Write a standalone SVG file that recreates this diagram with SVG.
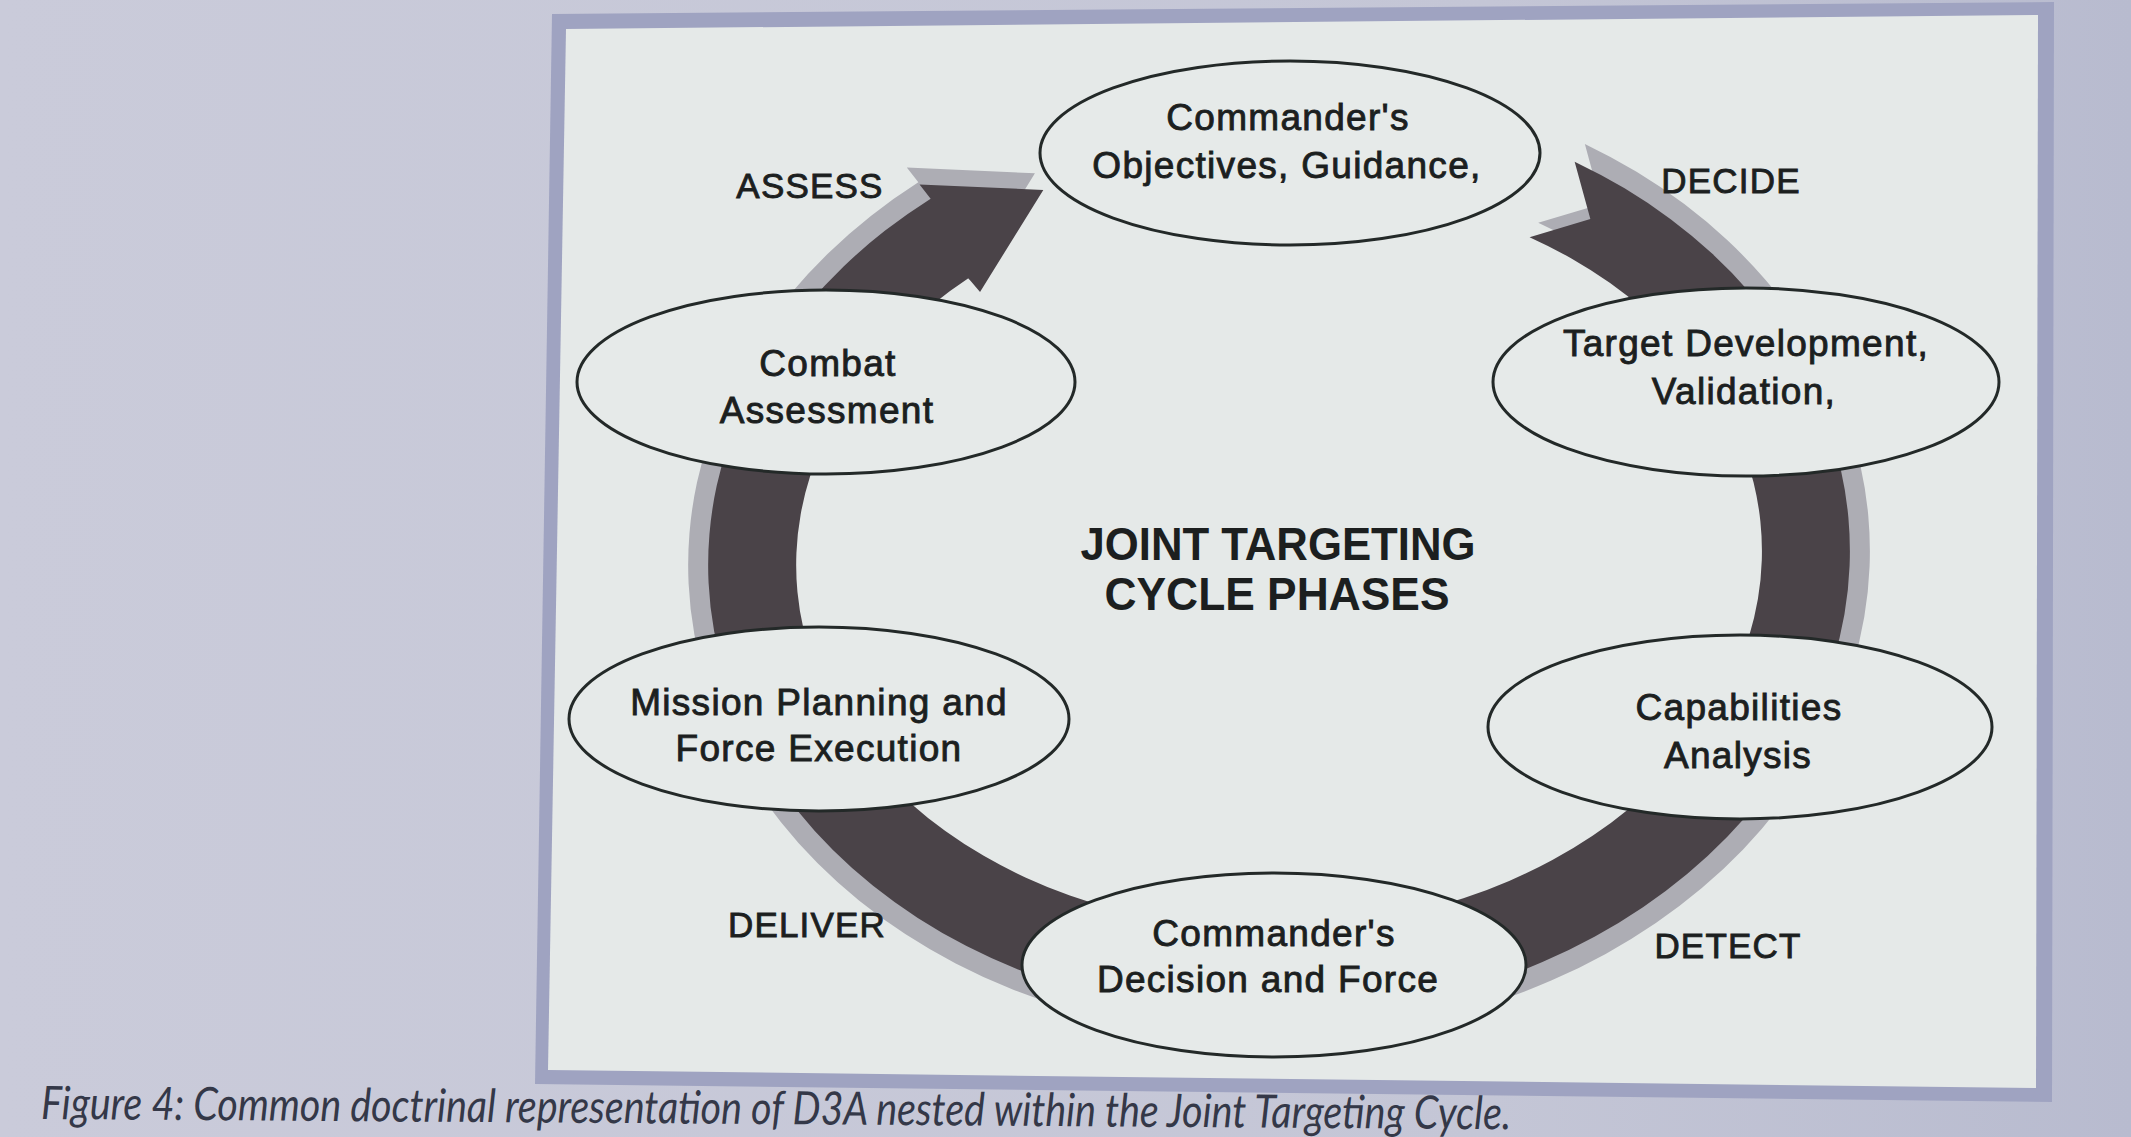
<svg xmlns="http://www.w3.org/2000/svg" xmlns:xlink="http://www.w3.org/1999/xlink" width="2131" height="1137" viewBox="0 0 2131 1137">
  <defs>
    <linearGradient id="bg" x1="0" y1="0" x2="1" y2="0">
      <stop offset="0" stop-color="#cacbda"/>
      <stop offset="0.7" stop-color="#c4c6d6"/>
      <stop offset="1" stop-color="#b8bbcf"/>
    </linearGradient>
    <path id="ring" d="M 309.3 -385.8 A 571 459 0 1 1 -335.6 -371.3 L -346.2 -385.9 L -222.7 -376.1 L -289.5 -276.3 L -300.7 -290.3 A 483 371 0 1 0 261.6 -311.9 L 323.0 -327.9 Z"/>
    <style>
      .node ellipse { fill: #e6eae9; stroke: #232928; stroke-width: 3; }
      .node text, .label { font-family: "Liberation Sans", Arial, sans-serif; fill: #1c1f1f; stroke: #1c1f1f; stroke-width: 0.9px; text-anchor: middle; }
      .node text { font-size: 37px; letter-spacing: 1.3px; }
      .label { font-size: 35px; letter-spacing: 1.2px; }
      .title { font-family: "Liberation Sans", Arial, sans-serif; font-size: 46px; font-weight: bold; fill: #1c1f1f; text-anchor: middle; }
      .caption { font-family: Lato, "Noto Sans", sans-serif; font-style: italic; font-size: 46px; fill: #343848; }
    </style>
  </defs>

  <!-- background -->
  <rect x="0" y="0" width="2131" height="1137" fill="url(#bg)"/>
  <!-- frame -->
  <polygon points="552,14 2054,2 2052,1102 535,1084" fill="#9fa3c1"/>
  <polygon points="566,29 2038,15 2036,1088 548,1070" fill="#e5e9e8"/>

  <!-- connectors: the cycle arrow -->
  <g id="connectors" transform="translate(1279,558) rotate(-2)">
    <use xlink:href="#ring" href="#ring" fill="#adadb4" transform="scale(1.035,1.045)"/>
    <use xlink:href="#ring" href="#ring" fill="#4a4348"/>
  </g>

  <!-- nodes -->
  <g id="node-objectives" class="node">
    <ellipse cx="1290" cy="153" rx="250" ry="92"/>
    <text x="1288" y="130">Commander's</text>
    <text x="1287" y="178">Objectives, Guidance,</text>
  </g>
  <g id="node-target" class="node">
    <ellipse cx="1746" cy="382" rx="253" ry="94"/>
    <text x="1746" y="356">Target Development,</text>
    <text x="1744" y="404">Validation,</text>
  </g>
  <g id="node-capabilities" class="node">
    <ellipse cx="1740" cy="727" rx="252" ry="92"/>
    <text x="1739" y="720">Capabilities</text>
    <text x="1738" y="768">Analysis</text>
  </g>
  <g id="node-decision" class="node">
    <ellipse cx="1274" cy="965" rx="252" ry="92"/>
    <text x="1274" y="946">Commander's</text>
    <text x="1268" y="992">Decision and Force</text>
  </g>
  <g id="node-mission" class="node">
    <ellipse cx="819" cy="719" rx="250" ry="92"/>
    <text x="819" y="715">Mission Planning and</text>
    <text x="819" y="761">Force Execution</text>
  </g>
  <g id="node-combat" class="node">
    <ellipse cx="826" cy="382" rx="249" ry="92"/>
    <text x="828" y="376">Combat</text>
    <text x="827" y="423">Assessment</text>
  </g>

  <!-- phase labels -->
  <g id="labels">
    <text class="label" x="810" y="198">ASSESS</text>
    <text class="label" x="1731" y="193">DECIDE</text>
    <text class="label" x="1728" y="958">DETECT</text>
    <text class="label" x="807" y="937">DELIVER</text>
  </g>

  <g id="title">
    <text class="title" x="1278" y="560" textLength="395" lengthAdjust="spacingAndGlyphs">JOINT TARGETING</text>
    <text class="title" x="1277" y="610" textLength="345" lengthAdjust="spacingAndGlyphs">CYCLE PHASES</text>
  </g>

  <text class="caption" x="41" y="1119" transform="rotate(0.4 41 1119)" textLength="1470" lengthAdjust="spacingAndGlyphs">Figure 4: Common doctrinal representation of D3A nested within the Joint Targeting Cycle.</text>
</svg>
